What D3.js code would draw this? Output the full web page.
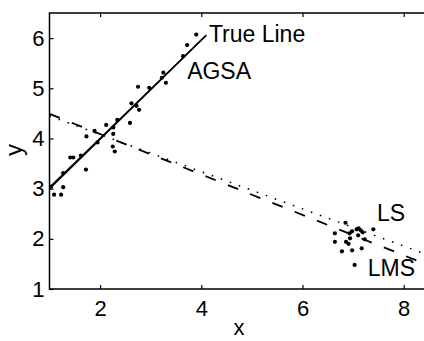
<!DOCTYPE html>
<html>
<head>
<meta charset="utf-8">
<script src="https://cdn.jsdelivr.net/npm/d3@7"></script>
<style>
  html, body { margin: 0; padding: 0; background: #fff; }
  svg { display: block; }
  text { font-family: "Liberation Sans", Arial, Helvetica, sans-serif; fill: #000; }
</style>
</head>
<body>
<svg id="chart" width="424" height="341"></svg>
<script>
// ---- data ----
const xTicks = [2, 4, 6, 8];
const yTicks = [1, 2, 3, 4, 5, 6];

// points scattered along the true line
const lineClusterX = [3.90, 3.72, 3.64, 3.25, 3.22, 3.30, 2.97, 2.75, 2.62, 2.77, 2.72, 2.59, 2.34, 2.12, 2.26,
                      2.26, 2.25, 2.29, 1.89, 1.73, 1.95, 1.62, 1.41, 1.47, 1.72, 1.27, 1.03, 1.27, 1.09, 1.23];
const lineClusterY = [6.07, 5.86, 5.64, 5.31, 5.21, 5.11, 5.01, 5.03, 4.70, 4.57, 4.65, 4.31, 4.37, 4.27, 4.22,
                      4.09, 3.84, 3.74, 4.15, 4.04, 3.92, 3.66, 3.62, 3.62, 3.38, 3.31, 3.04, 3.03, 2.88, 2.88];

// outlier cluster near (7, 2)
const outlierX = [6.85, 6.64, 6.64, 6.78, 6.86, 6.91, 6.98, 7.17, 7.40, 7.11, 7.15, 7.19, 6.93, 6.98, 7.07,
                  7.23, 7.03, 7.10, 6.94];
const outlierY = [2.32, 2.11, 1.94, 1.75, 1.94, 1.90, 1.77, 1.81, 2.19, 2.21, 2.17, 2.13, 2.11, 2.15, 2.19,
                  1.99, 1.48, 2.07, 2.01];

// fitted lines (endpoints)
const trueLineX = [1, 4.1];
const trueLineY = [3.0, 6.06];
const agsaLineX = [1, 4.08];
const agsaLineY = [3.03, 6.04];
const lsLineX = [1, 8.5];
const lsLineY = [4.45, 1.67];
const lmsLineX = [1, 8.5];
const lmsLineY = [4.49, 1.47];

const labels = ["True Line", "AGSA", "LS", "LMS"];

// ---- chart ----
const svg = d3.select("#chart");
const x = d3.scaleLinear().domain([1, 8.5]).range([49.5, 429]);
const y = d3.scaleLinear().domain([1, 6.5]).range([289, 13]);

const zip = (a, b) => a.map((v, i) => [v, b[i]]);
const line = d3.line().x(d => x(d[0])).y(d => y(d[1]));

// frame
svg.append("rect")
  .attr("x", x(1)).attr("y", y(6.5))
  .attr("width", x(8.5) - x(1)).attr("height", y(1) - y(6.5))
  .attr("fill", "none").attr("stroke", "#000").attr("stroke-width", 1.5);

// axes
const gx = svg.append("g").attr("transform", `translate(0,${y(1)})`)
  .call(d3.axisBottom(x).tickValues(xTicks).tickSize(-4).tickPadding(11).tickFormat(d3.format("d")));
const gxt = svg.append("g").attr("transform", `translate(0,${y(6.5)})`)
  .call(d3.axisTop(x).tickValues(xTicks).tickSize(-4).tickFormat(""));
const gy = svg.append("g").attr("transform", `translate(${x(1)},0)`)
  .call(d3.axisLeft(y).tickValues(yTicks).tickSize(-4).tickPadding(5).tickFormat(d3.format("d")));

[gx, gxt, gy].forEach(g => {
  g.select(".domain").remove();
  g.selectAll(".tick line").attr("stroke", "#000").attr("stroke-width", 1.2);
  g.selectAll("text").attr("font-size", 22).attr("fill", "#000")
    .style("font-family", '"Liberation Sans", Arial, sans-serif');
});

// lines
svg.append("path").datum(zip(lsLineX, lsLineY)).attr("d", line)
  .attr("fill", "none").attr("stroke", "#000").attr("stroke-width", 1.5)
  .attr("stroke-dasharray", "1.6,8");
svg.append("path").datum(zip(lmsLineX, lmsLineY)).attr("d", line)
  .attr("fill", "none").attr("stroke", "#000").attr("stroke-width", 1.8)
  .attr("stroke-dasharray", "11,13");
svg.append("path").datum(zip(agsaLineX, agsaLineY)).attr("d", line)
  .attr("fill", "none").attr("stroke", "#000").attr("stroke-width", 1.2);
svg.append("path").datum(zip(trueLineX, trueLineY)).attr("d", line)
  .attr("fill", "none").attr("stroke", "#000").attr("stroke-width", 1.6);

// points
const pts = zip(lineClusterX, lineClusterY).concat(zip(outlierX, outlierY));
svg.append("g").selectAll("circle").data(pts).join("circle")
  .attr("cx", d => x(d[0])).attr("cy", d => y(d[1])).attr("r", 2.1).attr("fill", "#000");

// annotations
const ann = [
  { t: labels[0], x: 4.15, y: 5.93 },
  { t: labels[1], x: 3.72, y: 5.18 },
  { t: labels[2], x: 7.47, y: 2.36 },
  { t: labels[3], x: 7.29, y: 1.25 }
];
svg.append("g").selectAll("text").data(ann).join("text")
  .attr("x", d => x(d.x)).attr("y", d => y(d.y))
  .attr("font-size", 23).text(d => d.t);

// axis titles
svg.append("text").attr("x", 239).attr("y", 335).attr("text-anchor", "middle")
  .attr("font-size", 22).text("x");
svg.append("text").attr("transform", "translate(22,150) rotate(-90)").attr("text-anchor", "middle")
  .attr("font-size", 24).text("y");
</script>
</body>
</html>
